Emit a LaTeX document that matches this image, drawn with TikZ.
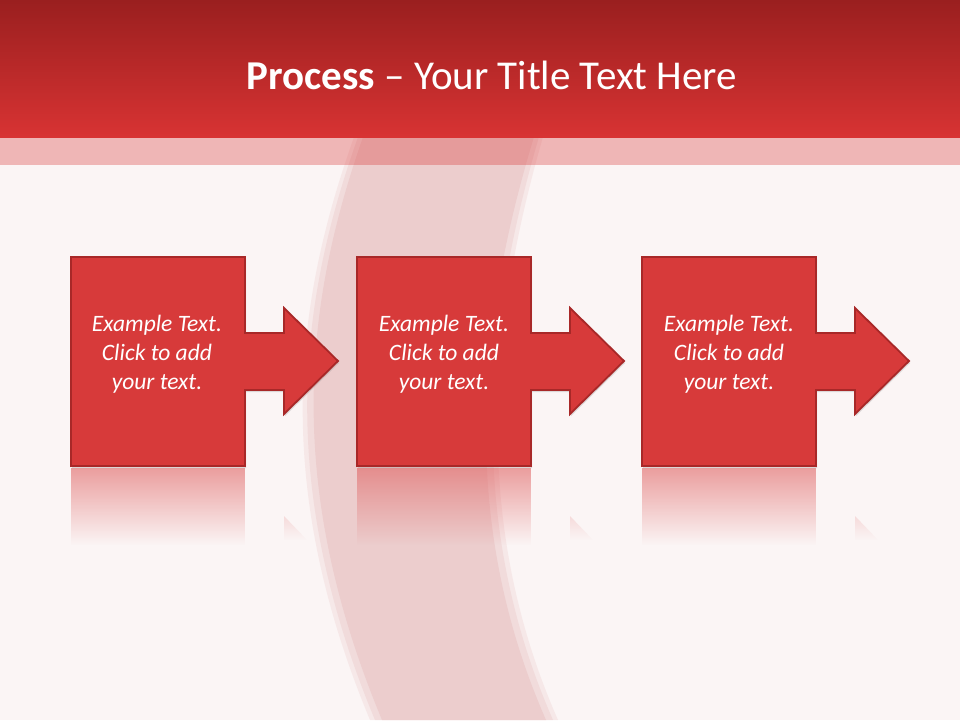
\documentclass[tikz,border=0pt]{standalone}
\usepackage{fontspec}
\setmainfont{Carlito}
\usetikzlibrary{fadings,shadows}
\definecolor{bgc}{HTML}{FBF5F5}
\definecolor{hdtop}{HTML}{9A1F1F}
\definecolor{hdbot}{HTML}{D83333}
\definecolor{swc}{HTML}{E9C4C4}
\definecolor{boxfill}{HTML}{D73A3A}
\definecolor{boxline}{HTML}{A82828}
\definecolor{reflc}{HTML}{E06464}
\tikzset{
  procshape/.style={fill=boxfill, draw=boxline, line width=1.8pt, line join=miter,
    drop shadow={opacity=0.25, shadow xshift=1pt, shadow yshift=-2pt}},
  refl/.style={fill=reflc, fill opacity=0.6, path fading=south},
  headrefl/.style={fill=reflc, fill opacity=0.18},
  txt/.style={text=white, align=center, font=\itshape\fontsize{23.5}{29}\selectfont},
  titletxt/.style={text=white, font=\fontsize{41}{46}\selectfont}
}
\begin{document}
\begin{tikzpicture}[x=1pt,y=-1pt]
\useasboundingbox (0,0) rectangle (960,720);
% background
\fill[bgc] (0,0) rectangle (960,720);
% swoosh (soft edges by layering)
\fill[swc, opacity=0.25] (354,137) .. controls (296,300) and (270,480) .. (370,720)
  -- (558,720) .. controls (470,520) and (490,320) .. (543,137) -- cycle;
\fill[swc, opacity=0.35] (358,137) .. controls (300,300) and (275,480) .. (375,720)
  -- (553,720) .. controls (465,520) and (485,320) .. (539,137) -- cycle;
\fill[swc, opacity=0.6] (363,137) .. controls (306,300) and (282,480) .. (382,720)
  -- (546,720) .. controls (458,520) and (478,320) .. (534,137) -- cycle;
% header
\shade[top color=hdtop, bottom color=hdbot] (0,0) rectangle (960,137);
\fill[hdbot, opacity=0.32] (0,137) rectangle (960,165);
\node[titletxt] (title) at (492,75) {\textbf{Process} – Your Title Text Here};
% reflections
\foreach \dx in {0,286,571}{
  \fill[refl] (71+\dx,468) rectangle (245+\dx,545);
  \fill[headrefl, path fading=south] (284+\dx,516) -- (307+\dx,540) -- (284+\dx,540) -- cycle;
}
% process shapes
\foreach \dx in {0,286,571}{
  \path[procshape] (71+\dx,257) -- (245+\dx,257) -- (245+\dx,333) -- (284+\dx,333)
    -- (284+\dx,308) -- (338+\dx,361) -- (284+\dx,414) -- (284+\dx,390)
    -- (245+\dx,390) -- (245+\dx,466) -- (71+\dx,466) -- cycle;
}
\node[txt] (t1) at (157,354) {Example Text.\\Click to add\\your text.};
\node[txt] (t2) at (444,354) {Example Text.\\Click to add\\your text.};
\node[txt] (t3) at (729,354) {Example Text.\\Click to add\\your text.};
\end{tikzpicture}
\end{document}
